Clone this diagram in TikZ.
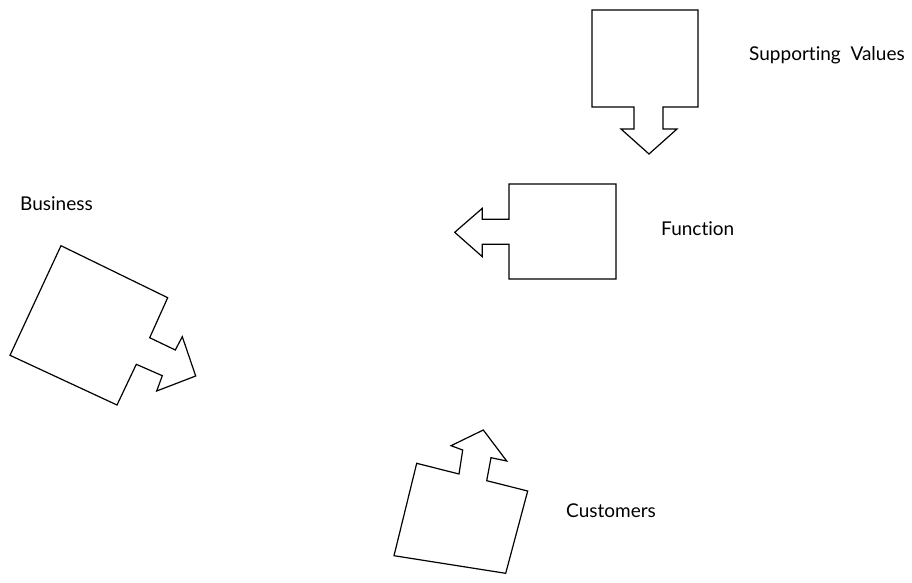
\documentclass[tikz,border=0pt]{standalone}
\usepackage{fontspec}
\setmainfont{Lato}[RawFeature={-liga;-dlig;-clig}]
\begin{document}
\begin{tikzpicture}[x=1pt,y=-1pt,
  blockarrow/.style={draw=black,line width=1.2pt,line join=miter,fill=white},
  tag/.style={anchor=base west,font=\fontsize{19}{22}\selectfont,inner sep=0pt}]
\useasboundingbox (0,0) rectangle (912,583);

% Supporting values: square with arrow pointing down
\draw[blockarrow] (592,10) -- (698,10) -- (698,107) -- (663,107) -- (663,129)
  -- (677,129) -- (649,154) -- (621,129) -- (634,129) -- (634,107) -- (592,107) -- cycle;

% Function: square with arrow pointing left
\draw[blockarrow] (509,184) -- (616,184) -- (616,279) -- (509,279) -- (509,244.3)
  -- (482.3,244.3) -- (482.3,256.7) -- (454.7,232.3) -- (482.3,208.3) -- (482.3,219.3)
  -- (509,219.3) -- cycle;

% Business: tilted square with arrow pointing right-down
\draw[blockarrow] (61,245.7) -- (167.7,297.7) -- (149.7,337.7) -- (175.3,350)
  -- (182.3,336.7) -- (195.7,376) -- (156.7,391) -- (162.3,375.7) -- (136.3,364.3)
  -- (117,405) -- (10,355.3) -- cycle;

% Customers: tilted square with arrow pointing up
\draw[blockarrow] (416.7,463.3) -- (459,474) -- (462.7,450) -- (451,445.7)
  -- (483.3,430) -- (506.7,461) -- (491,457.7) -- (486.7,480.7) -- (527.7,491)
  -- (505.7,573.3) -- (394,555.7) -- cycle;

\node[tag] (sv) at (749,60.7) {Supporting\ \ Values};
\node[tag] (fn) at (661,235) {Function};
\node[tag] (bu) at (20,210.7) {Business};
\node[tag] (cu) at (566,517) {Customers};
\end{tikzpicture}
\end{document}
